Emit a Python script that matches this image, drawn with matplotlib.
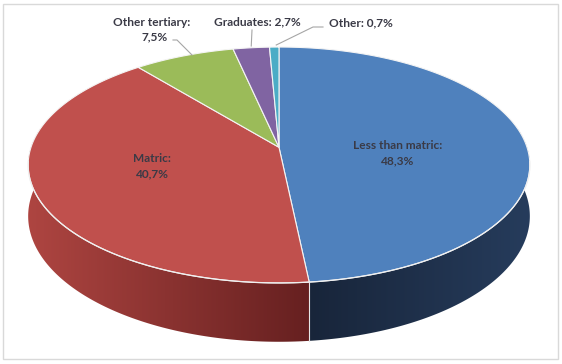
import numpy as np
import matplotlib.pyplot as plt
from matplotlib.patches import Polygon, Rectangle
from matplotlib.colors import LinearSegmentedColormap

# data
labels = ["Less than matric", "Matric", "Other tertiary", "Graduates", "Other"]
shares = [48.3, 40.7, 7.5, 2.7, 0.7]
top_colors = ["#4F81BD", "#C0504D", "#9BBB59", "#8064A2", "#4BACC6"]
side_left = ["#18253A", "#AE4541", "#6E8A3C", "#5A4676", "#2F7C90"]
side_right = ["#263C5C", "#662020", "#6E8A3C", "#5A4676", "#2F7C90"]

# pie geometry in pixel units, with a little perspective (k)
cx, cy, rx, ry, depth, k = 279, 147.3, 248, 115.3, 50, 0.15


def ell(a_deg, wall=False):
    t = np.radians(a_deg)
    X, Z = np.sin(t), np.cos(t)
    s = 1 + k * Z
    x = cx + rx * X / s
    y = cy - ry * Z / s
    if wall:
        y = y + depth / s
    return x, y


def fmt(v):
    return f"{v:.1f}".replace(".", ",") + "%"


fig = plt.figure(figsize=(5.62, 3.64), dpi=100)
ax = fig.add_axes([0, 0, 1, 1])
ax.set_xlim(0, 562)
ax.set_ylim(364, 0)
ax.axis("off")

ax.add_patch(Rectangle((3, 4), 555, 355, fill=False, ec="#d9d9d9", lw=1))

total = sum(shares)
bounds = np.concatenate([[0], np.cumsum(shares) / total * 360])

# side wall (front part only)
for i in range(len(shares)):
    a1, a2 = max(bounds[i], 80), min(bounds[i + 1], 280)
    if a2 <= a1:
        continue
    a = np.linspace(a1, a2, 150)
    x, y = ell(a)
    xb, yb = ell(a, wall=True)
    pts = list(zip(x, y)) + list(zip(xb[::-1], yb[::-1]))
    poly = Polygon(pts, closed=True, fc="none", ec="none")
    ax.add_patch(poly)
    cmap = LinearSegmentedColormap.from_list("s%d" % i, [side_left[i], side_right[i]])
    grad = np.linspace(0, 1, 256).reshape(1, -1)
    im = ax.imshow(grad, cmap=cmap, aspect="auto", interpolation="bilinear",
                   extent=[x.min(), x.max(), yb.max(), y.min()], zorder=1)
    im.set_clip_path(poly)

# top face
pc = (cx, cy)
for i in range(len(shares)):
    a = np.linspace(bounds[i], bounds[i + 1], 200)
    x, y = ell(a)
    pts = [pc] + list(zip(x, y))
    ax.add_patch(Polygon(pts, closed=True, fc=top_colors[i], ec="#f4f4f4", lw=0.8, zorder=2))

# highlight rim along the front edge
a = np.linspace(97, 263, 200)
x, y = ell(a)
ax.plot(x, y, color="#f0f0f0", lw=0.9, zorder=3)
# slice boundary down the wall
for b in bounds[1:-1]:
    if 95 < b < 265:
        xt, yt = ell(b)
        xb, yb = ell(b, wall=True)
        ax.plot([xt, xb], [yt, yb], color="#e8e8e8", lw=0.8, zorder=3)

txt = dict(fontfamily="Lato", fontweight="bold", fontsize=8.6, color="#3a3a46",
           ha="center", va="center", zorder=4)

ax.text(398, 153, f"{labels[0]}:\n{fmt(shares[0])}", linespacing=1.45, **txt)
ax.text(152, 166, f"{labels[1]}:\n{fmt(shares[1])}", linespacing=1.45, **txt)

ax.text(152, 22, f"{labels[2]}:", **txt)
ax.text(155, 37, fmt(shares[2]), **txt)
ax.text(257, 22, f"{labels[3]}: {fmt(shares[3])}", **txt)
ax.text(361, 23, f"{labels[4]}: {fmt(shares[4])}", **txt)

lead = dict(color="#a6a6a6", lw=0.8, zorder=3)
mid = (bounds[2] + bounds[3]) / 2
ax.plot([173, 177, ell(mid)[0] + 8], [40, 40, 55], **lead)
mid = (bounds[3] + bounds[4]) / 2
ax.plot([252, ell(mid)[0]], [30, 46], **lead)
mid = (bounds[4] + bounds[5]) / 2
ax.plot([323, 313, ell(mid)[0] + 2], [27, 27, 45], **lead)

fig.savefig("out.png", dpi=100)
